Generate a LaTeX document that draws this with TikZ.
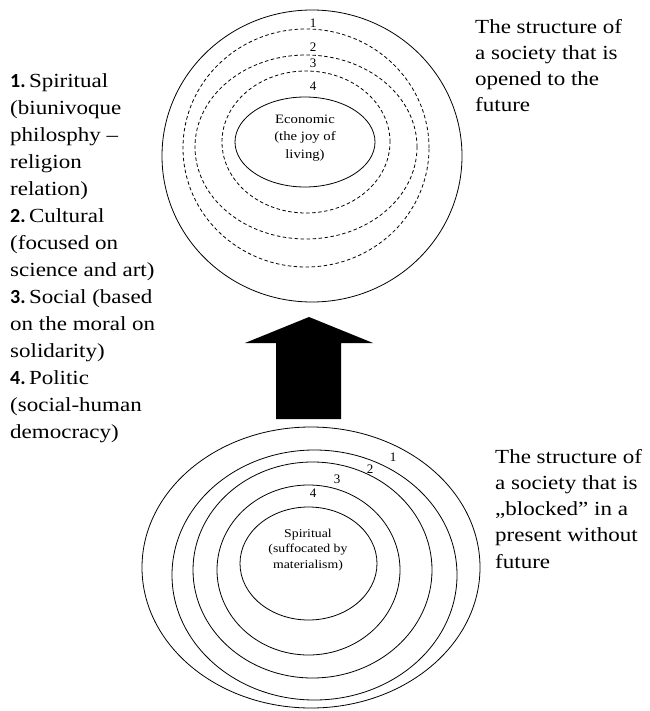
\documentclass[tikz,border=0pt]{standalone}
\usepackage{fontspec}
\setmainfont{Liberation Serif}
\newfontfamily\wide[FakeStretch=1.15]{Liberation Serif}
\newfontfamily\numfont{Carlito}
\begin{document}
\begin{tikzpicture}[x=1pt,y=-1pt,
  ring/.style={draw=black,line width=0.8pt},
  dring/.style={draw=black,line width=0.8pt,dash pattern=on 3.5pt off 2.5pt},
  big/.style={inner sep=0pt,align=left,anchor=north west,font=\wide\fontsize{20}{27}\selectfont},
  small/.style={inner sep=0pt,align=center,font=\wide\fontsize{12}{15.5}\selectfont},
  num/.style={inner sep=0pt,font=\fontsize{13}{14}\selectfont}]
\useasboundingbox (0,0) rectangle (649,711);
\fill[white] (0,0) rectangle (649,711);
% top structure
\draw[ring] (312,156) ellipse [x radius=150pt, y radius=146pt];
\draw[dring] (306,148) ellipse [x radius=123pt, y radius=119pt];
\draw[dring] (306,147) ellipse [x radius=111pt, y radius=92pt];
\draw[dring] (306,142) ellipse [x radius=84pt, y radius=71pt];
\draw[ring] (305,142) ellipse [x radius=70pt, y radius=45pt];
\node[small,font=\wide\fontsize{12.8}{17.5}\selectfont] (econ) at (305,138) {Economic\\(the joy of\\living)};
\node[num] (t1) at (313,23) {1};
\node[num] (t2) at (313,47) {2};
\node[num] (t3) at (313,63) {3};
\node[num] (t4) at (313,86) {4};
% arrow
\fill[black] (309,317) -- (373,343) -- (341,343) -- (341,419) -- (276,419) -- (276,343) -- (245,343) -- cycle;
% bottom structure
\draw[ring] (311,567.5) ellipse [x radius=169pt, y radius=140.5pt];
\draw[ring] (314.5,575) ellipse [x radius=142.5pt, y radius=125pt];
\draw[ring] (312.5,570) ellipse [x radius=119.5pt, y radius=108pt];
\draw[ring] (308.5,570) ellipse [x radius=91.5pt, y radius=85pt];
\draw[ring] (308.5,563.5) ellipse [x radius=68.5pt, y radius=56.5pt];
\node[small] (spir) at (308,550) {Spiritual\\(suffocated by\\materialism)};
\node[num] (b1) at (393,457) {1};
\node[num] (b2) at (370,469) {2};
\node[num] (b3) at (337,479) {3};
\node[num] (b4) at (313,493) {4};
% texts
\node[big] (legend) at (10,73) {{\numfont\bfseries 1.}\,Spiritual\\(biunivoque\\philosphy –\\religion\\relation)\\{\numfont\bfseries 2.}\,Cultural\\(focused on\\science and art)\\{\numfont\bfseries 3.}\,Social (based\\on the moral on\\solidarity)\\{\numfont\bfseries 4.}\,Politic\\(social-human\\democracy)};
\node[big,font=\wide\fontsize{20}{26.2}\selectfont] (open) at (475,19) {The structure of\\a society that is\\opened to the\\future};
\node[big,font=\wide\fontsize{20}{26.2}\selectfont] (blocked) at (495,449) {The structure of\\a society that is\\„blocked” in a\\present without\\future};
\end{tikzpicture}
\end{document}
